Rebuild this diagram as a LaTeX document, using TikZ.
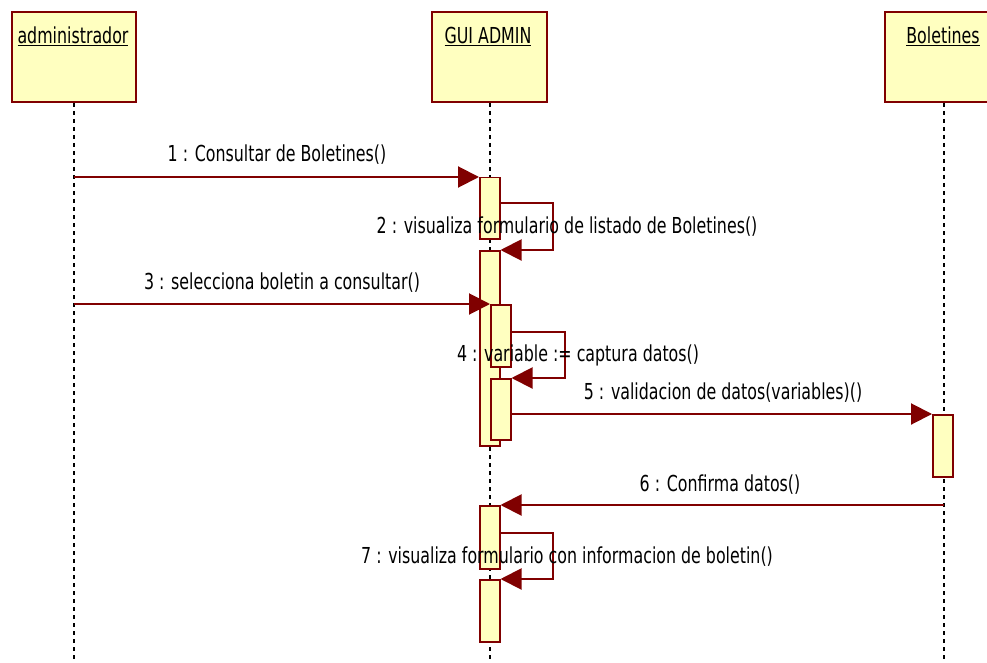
\documentclass[tikz,border=0pt]{standalone}
\usepackage{fontspec}
\setmainfont[FakeStretch=0.72]{DejaVu Sans}
\usetikzlibrary{arrows.meta}

\definecolor{umlred}{RGB}{128,0,0}
\definecolor{umlfill}{RGB}{255,255,192}

\tikzset{
  objbox/.style={draw=umlred,fill=umlfill,line width=2pt,minimum width=#1,
    minimum height=90pt,inner sep=0pt,anchor=north west},
  actbar/.style={draw=umlred,fill=umlfill,line width=1.5pt,minimum width=20pt,
    minimum height=#1,inner sep=0pt,anchor=north west},
  lifeline/.style={line width=2pt,dash pattern=on 4pt off 4pt},
  msg/.style={draw=umlred,line width=2pt,-{Triangle[length=21pt,width=21pt]}},
  msgtxt/.style={font=\fontsize{22}{24}\selectfont,inner sep=0pt}
}

\begin{document}
\begin{tikzpicture}[x=1pt,y=-1pt]
\useasboundingbox (0,0) rectangle (987,663);
% objects
\node[objbox=124pt] (admin) at (11,11) {};
\node[objbox=115pt] (gui) at (431,11) {};
\node[objbox=118pt] (bol) at (884,11) {};
\node[msgtxt] (admintxt) at (73,36) {\underline{administrador}};
\node[msgtxt] (guitxt) at (488,36) {\underline{GUI ADMIN}};
\node[msgtxt] (boltxt) at (943,36) {\underline{Boletines}};
% lifelines
\draw[lifeline] (admin.south) -- ++(0,562);
\draw[lifeline] (gui.south) -- ++(0,562);
\draw[lifeline] (bol.south) -- ++(0,562);
% activations
\node[actbar=61pt] (gA) at (479,177) {};
\node[actbar=195pt] (gB) at (479,250) {};
\node[actbar=62pt] (gC) at (490,304) {};
\node[actbar=61pt] (gD) at (490,378) {};
\node[actbar=62pt] (bA) at (932,414) {};
\node[actbar=63pt] (gE) at (479,505) {};
\node[actbar=62pt] (gF) at (479,579) {};
% messages
\draw[msg] (admin.south |- gA.north west) -- (gA.north west);
\draw[msg] ([yshift=-26pt]gA.north east) -- ++(52,0) |- (gB.north east);
\draw[msg] (admin.south |- gC.north west) -- (gC.north west);
\draw[msg] ([yshift=-28pt]gC.north east) -- ++(53,0) |- (gD.north east);
\draw[msg] (gD.east |- bA.north west) -- (bA.north west);
\draw[msg] (bol.south |- gE.north east) -- (gE.north east);
\draw[msg] ([yshift=-28pt]gE.north east) -- ++(52,0) |- (gF.north east);
% labels
\node[msgtxt] (m1) at (277,155) {1 : Consultar de Boletines()};
\node[msgtxt] (m2) at (567,227) {2 : visualiza formulario de listado de Boletines()};
\node[msgtxt] (m3) at (282,283) {3 : selecciona boletin a consultar()};
\node[msgtxt] (m4) at (578,355) {4 : variable := captura datos()};
\node[msgtxt] (m5) at (723,393) {5 : validacion de datos(variables)()};
\node[msgtxt] (m6) at (720,485) {6 : Confirma datos()};
\node[msgtxt] (m7) at (567,557) {7 : visualiza formulario con informacion de boletin()};
\end{tikzpicture}
\end{document}
